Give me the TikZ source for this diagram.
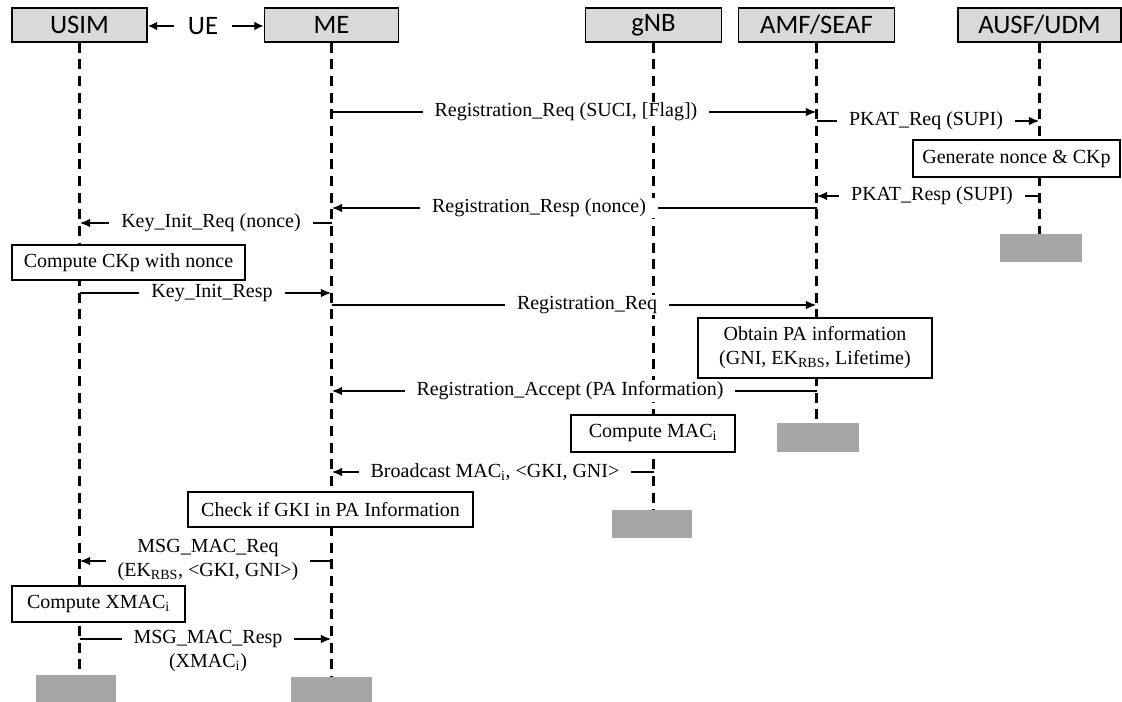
\documentclass[tikz,border=0pt]{standalone}
\usepackage{fontspec}
\setmainfont{Liberation Serif}
\newfontfamily\hdrfont{Carlito}
\usetikzlibrary{arrows.meta}
\definecolor{hdrgray}{HTML}{D9D9D9}
\definecolor{endgray}{HTML}{A6A6A6}
\def\u{0.75pt}
\tikzset{
  hdr/.style={draw=black, fill=hdrgray, line width=1.1pt, minimum height=34*\u, inner sep=0pt,
    font=\hdrfont\fontsize{20}{22}\selectfont},
  life/.style={line width=2.3pt, dash pattern=on 7.5pt off 5pt},
  msg/.style={line width=1.5pt, -{Latex[length=8pt,width=6.5pt]}},
  uearr/.style={line width=1.6pt, -{Latex[length=7pt,width=6.5pt]}},
  lbl/.style={fill=white, inner xsep=9pt, inner ysep=1pt, font=\fontsize{15}{18}\selectfont, align=center},
  act/.style={draw=black, fill=white, line width=1.1pt, font=\fontsize{15}{18}\selectfont, align=center, inner sep=0pt},
  endbox/.style={fill=endgray, inner sep=0pt},
}
\begin{document}
\begin{tikzpicture}[x=0.75pt,y=-0.75pt]
\useasboundingbox (0,0) rectangle (1122,702);
% headers
\node[hdr, minimum width=135*\u] (usim) at (79.5,25) {USIM};
\node[hdr, minimum width=134*\u] (me) at (331.5,25) {ME};
\node[hdr, minimum width=136*\u] (gnb) at (653.5,25) {gNB};
\node[hdr, minimum width=156*\u] (amf) at (816.5,25) {AMF/SEAF};
\node[hdr, minimum width=163*\u] (ausf) at (1039.5,25) {AUSF/UDM};
\node[font=\hdrfont\fontsize{20}{22}\selectfont, inner xsep=10pt] (ue) at (203,26) {UE};
\draw[uearr] (ue.west) -- (usim.east |- ue.west);
\draw[uearr] (ue.east) -- (me.west |- ue.east);
% end boxes
\node[endbox, minimum width=80*\u, minimum height=27*\u] (usimE) at (76,688.5) {};
\node[endbox, minimum width=81*\u, minimum height=25*\u] (meE) at (331,689.5) {};
\node[endbox, minimum width=80*\u, minimum height=28*\u] (gnbE) at (652,524) {};
\node[endbox, minimum width=82*\u, minimum height=29*\u] (amfE) at (818,437.5) {};
\node[endbox, minimum width=82*\u, minimum height=28*\u] (ausfE) at (1041,248.5) {};
% lifelines
\draw[life] (usim.south) -- (usim.south |- usimE.north);
\draw[life] (me.south) -- (me.south |- meE.north);
\draw[life] (gnb.south) -- (gnb.south |- gnbE.north);
\draw[life] (amf.south) -- (amf.south |- amfE.north);
\draw[life] (ausf.south) -- (ausf.south |- ausfE.north);
% rows
\coordinate (y1) at (0,112);
\coordinate (y2) at (0,121);
\coordinate (y3) at (0,196);
\coordinate (y4) at (0,208);
\coordinate (y5) at (0,223);
\coordinate (y6) at (0,293);
\coordinate (y7) at (0,305);
\coordinate (y8) at (0,391);
\coordinate (y9) at (0,472);
\coordinate (y10) at (0,561);
\coordinate (y11) at (0,639);
% messages
\draw[msg] (me |- y1) -- (amf |- y1);
\node[lbl] at (566,112) {Registration\_Req (SUCI, [Flag])};
\draw[msg] (amf |- y2) -- (ausf |- y2);
\node[lbl] at (926,121) {PKAT\_Req (SUPI)};
\draw[msg] (ausf |- y3) -- (amf |- y3);
\node[lbl] at (932,196) {PKAT\_Resp (SUPI)};
\draw[msg] (amf |- y4) -- (me |- y4);
\node[lbl] at (539,208) {Registration\_Resp (nonce)};
\draw[msg] (me |- y5) -- (usim |- y5);
\node[lbl] at (211,223) {Key\_Init\_Req (nonce)};
\draw[msg] (usim |- y6) -- (me |- y6);
\node[lbl] at (212,293) {Key\_Init\_Resp};
\draw[msg] (me |- y7) -- (amf |- y7);
\node[lbl] at (587,305) {Registration\_Req};
\draw[msg] (amf |- y8) -- (me |- y8);
\node[lbl] at (570,391) {Registration\_Accept (PA Information)};
\draw[msg] (gnb |- y9) -- (me |- y9);
\node[lbl] at (495,472) {Broadcast MAC\textsubscript{i}, <GKI, GNI>};
\draw[msg] (me |- y10) -- (usim |- y10);
\node[lbl] at (208,560) {MSG\_MAC\_Req\\(EK\textsubscript{RBS}, <GKI, GNI>)};
\draw[msg] (usim |- y11) -- (me |- y11);
\node[lbl] at (208,651) {MSG\_MAC\_Resp\\(XMAC\textsubscript{i})};
% activity boxes
\node[act, minimum width=207*\u, minimum height=37*\u] (gen) at (1016.5,158.5) {Generate nonce \& CKp};
\node[act, minimum width=233*\u, minimum height=35*\u] (ckp) at (128.5,262.5) {Compute CKp with nonce};
\node[act, minimum width=234*\u, minimum height=60*\u] (obt) at (815,348) {Obtain PA information\\(GNI, EK\textsubscript{RBS}, Lifetime)};
\node[act, minimum width=164*\u, minimum height=37*\u] (cmac) at (653,433.5) {Compute MAC\textsubscript{i}};
\node[act, minimum width=285*\u, minimum height=35*\u] (chk) at (330.5,509.5) {Check if GKI in PA Information};
\node[act, minimum width=173*\u, minimum height=36*\u] (xmac) at (98.5,604) {Compute XMAC\textsubscript{i}};
\end{tikzpicture}
\end{document}
